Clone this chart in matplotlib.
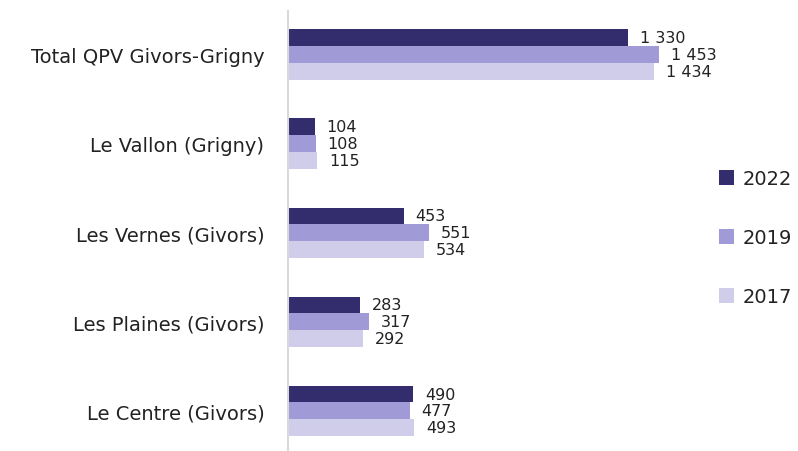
import matplotlib.pyplot as plt
import numpy as np

categories = ["Le Centre (Givors)", "Les Plaines (Givors)", "Les Vernes (Givors)",
              "Le Vallon (Grigny)", "Total QPV Givors-Grigny"]
v2022 = [490, 283, 453, 104, 1330]
v2019 = [477, 317, 551, 108, 1453]
v2017 = [493, 292, 534, 115, 1434]
series = [("2022", v2022, "#332D6E"), ("2019", v2019, "#A09BD6"), ("2017", v2017, "#CFCDEA")]

def fmt(v):
    return f"{v:,}".replace(",", " ")

plt.rcParams['font.family'] = ['DejaVu Sans']
fig = plt.figure(figsize=(7.98, 4.52), dpi=100)
ax = fig.add_axes([0.361, 0.0, 0.52, 0.973])
y = np.arange(len(categories))
h = 0.19
offsets = [h, 0, -h]
for (lab, vals, col), off in zip(series, offsets):
    bars = ax.barh(y + off, vals, height=h, color=col, label=lab)
    for yy, v in zip(y + off, vals):
        ax.annotate(fmt(v), (v, yy), xytext=(8.5, 0), textcoords='offset points',
                    va='center', ha='left', fontsize=11.5, color='#222222')

ax.set_ylim(-0.45, 4.49)
ax.set_xlim(0, 1625)
ax.set_yticks(y)
ax.set_yticklabels(categories, fontsize=14, color='#222222')
ax.tick_params(axis='y', length=0, pad=17)
ax.set_xticks([])
for s in ['top', 'right', 'bottom']:
    ax.spines[s].set_visible(False)
ax.spines['left'].set_color('#D9D9D9')
ax.spines['left'].set_linewidth(1.5)

leg = ax.legend(loc='center left', bbox_to_anchor=(1.0, 0.485), frameon=False,
                fontsize=14, handlelength=0.8, handleheight=0.8, labelspacing=2.05,
                handletextpad=0.45, borderaxespad=0.4)
for t in leg.get_texts():
    t.set_color('#222222')

fig.savefig("out.png", dpi=100)
